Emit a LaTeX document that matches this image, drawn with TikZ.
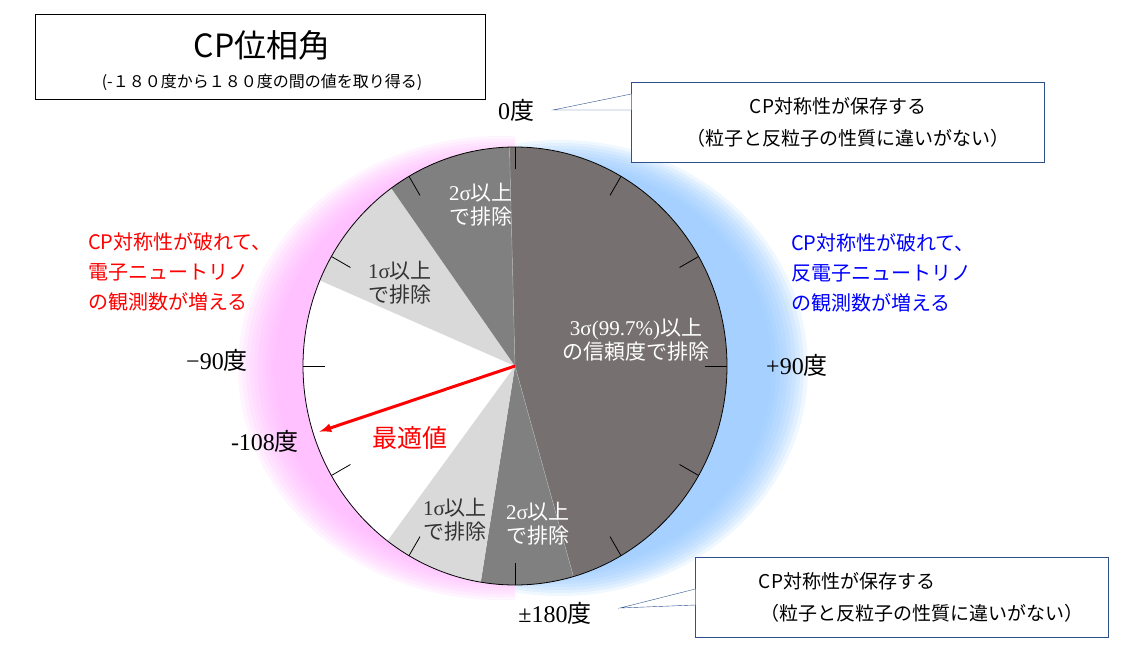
\documentclass[tikz,border=0pt]{standalone}
\usepackage{fontspec}
\setmainfont{Liberation Serif}
\newfontfamily\jp{Noto Sans CJK JP}
\usetikzlibrary{positioning,calc}
\definecolor{darkgr}{RGB}{118,113,112}
\definecolor{midgr}{RGB}{128,128,128}
\definecolor{lightgr}{RGB}{217,217,217}
\definecolor{boxblue}{RGB}{47,82,143}
\definecolor{halopink}{RGB}{255,170,255}
\definecolor{haloblue}{RGB}{140,195,255}
\newcommand{\sector}[3]{\fill[#1] (c) -- plot[domain=#2:#3,samples=40] ({515+212*sin(\x)},{366-219*cos(\x)}) -- cycle;}

\begin{document}
\begin{tikzpicture}[x=1pt,y=-1pt]
            \tikzset{lbl/.style={font=\fontsize{24}{26}\selectfont,inner sep=1pt},
                     seclbl/.style={font=\fontsize{21}{24}\selectfont,align=center,inner sep=0pt},
                     side/.style={font=\jp\fontsize{20}{30}\selectfont,align=left,inner sep=0pt},
                     callout/.style={draw=boxblue,fill=white,minimum width=413pt,minimum height=80pt,
                        align=center,font=\jp\fontsize{19}{32}\selectfont}}
            \useasboundingbox (0,0) rectangle (1129,658);
            \coordinate (c) at (515,366);

            % glow on both sides
            \begin{scope}
            \clip (0,0) rectangle (515,658);
            \foreach \k in {0,...,9}
              \fill[halopink,opacity=0.12] (500,368) ellipse ({262-4*\k} and {232-3*\k});
            \end{scope}
            \begin{scope}
            \clip (515,0) rectangle (1129,658);
            \foreach \k in {0,...,9}
              \fill[haloblue,opacity=0.14] (560,368) ellipse ({248-4*\k} and {228-3*\k});
            \end{scope}

            % sectors
            \fill[white] (c) ellipse (212 and 219);
            \sector{darkgr}{-1.5}{164}
            \sector{midgr}{164}{189.3}
            \sector{lightgr}{189.3}{217}
            \sector{lightgr}{-67}{-35.7}
            \sector{midgr}{-35.7}{-1.5}
            \draw[gray!60] (c) -- ({515+212*sin(-1.5)},{366-219*cos(-1.5)})
                           (c) -- ({515+212*sin(164)},{366-219*cos(164)});
            \foreach \t in {0,30,...,330}
              \draw[thick] ({515+212*sin(\t)},{366-219*cos(\t)}) -- ({515+190*sin(\t)},{366-197*cos(\t)});
            \draw[thick] (c) ellipse (212 and 219);

            % title
            \node[draw,minimum width=450pt,minimum height=85pt] (title) at (260,57) {};
            \node[font=\jp\fontsize{32}{34}\selectfont] (ttl) at (262,45) {CP位相角};
            \node[font=\jp\fontsize{16}{18}\selectfont] (sub) at (262,82) {(-１８０度から１８０度の間の値を取り得る)};

            % angle labels
            \node[lbl] (deg0) at (516,110) {0\jp 度};
            \node[lbl] (degm90) at (217,360) {−90\jp 度};
            \node[lbl] (degp90) at (797,365) {+90\jp 度};
            \node[lbl] (degm108) at (265,441) {-108\jp 度};
            \node[lbl] (deg180) at (555,613) {±180\jp 度};

            % callouts
            \node[callout] (save1) at (838,122) {CP対称性が保存する\\\hspace*{20pt}（粒子と反粒子の性質に違いがない）};
            \coordinate (tip1) at (553,110);
            \filldraw[draw=boxblue,fill=white] ($(save1.west)+(0,-28)$) -- (tip1) -- ($(save1.west)+(0,-12)$);
            \node[callout] (save2) at (902,597) {CP対称性が保存する\hspace*{110pt}\\\hspace*{40pt}（粒子と反粒子の性質に違いがない）};
            \coordinate (tip2) at (620,608);
            \filldraw[draw=boxblue,fill=white] ($(save2.west)+(0,-8)$) -- (tip2) -- ($(save2.west)+(0,8)$);

            % sides
            \node[side,text=red] (redtxt) at (180,272) {CP対称性が破れて、\\電子ニュートリノ\\の観測数が増える};
            \node[side,text=blue] (bluetxt) at (883,273) {CP対称性が破れて、\\反電子ニュートリノ\\の観測数が増える};

            % sector labels
            \node[seclbl,text=white] (two1) at (481,205) {2σ\jp 以上\\\jp で排除};
            \node[seclbl,text=black!80] (one1) at (400,283) {1σ\jp 以上\\\jp で排除};
            \node[seclbl,text=white] (three) at (636,340) {3σ(99.7\%)\jp 以上\\\jp の信頼度で排除};
            \node[seclbl,text=black!80] (one2) at (455,520) {1σ\jp 以上\\\jp で排除};
            \node[seclbl,text=white] (two2) at (538,524) {2σ\jp 以上\\\jp で排除};

            % best fit
            \coordinate (best) at ({515+212*sin(-108)},{366-219*cos(-108)});
            \draw[red,line width=3pt,-latex] (c) -- ($(c)!0.97!(best)$);
            \node[font=\jp\fontsize{25}{27}\selectfont,text=red] (bf) at (410,438) {最適値};
\end{tikzpicture}
\end{document}
